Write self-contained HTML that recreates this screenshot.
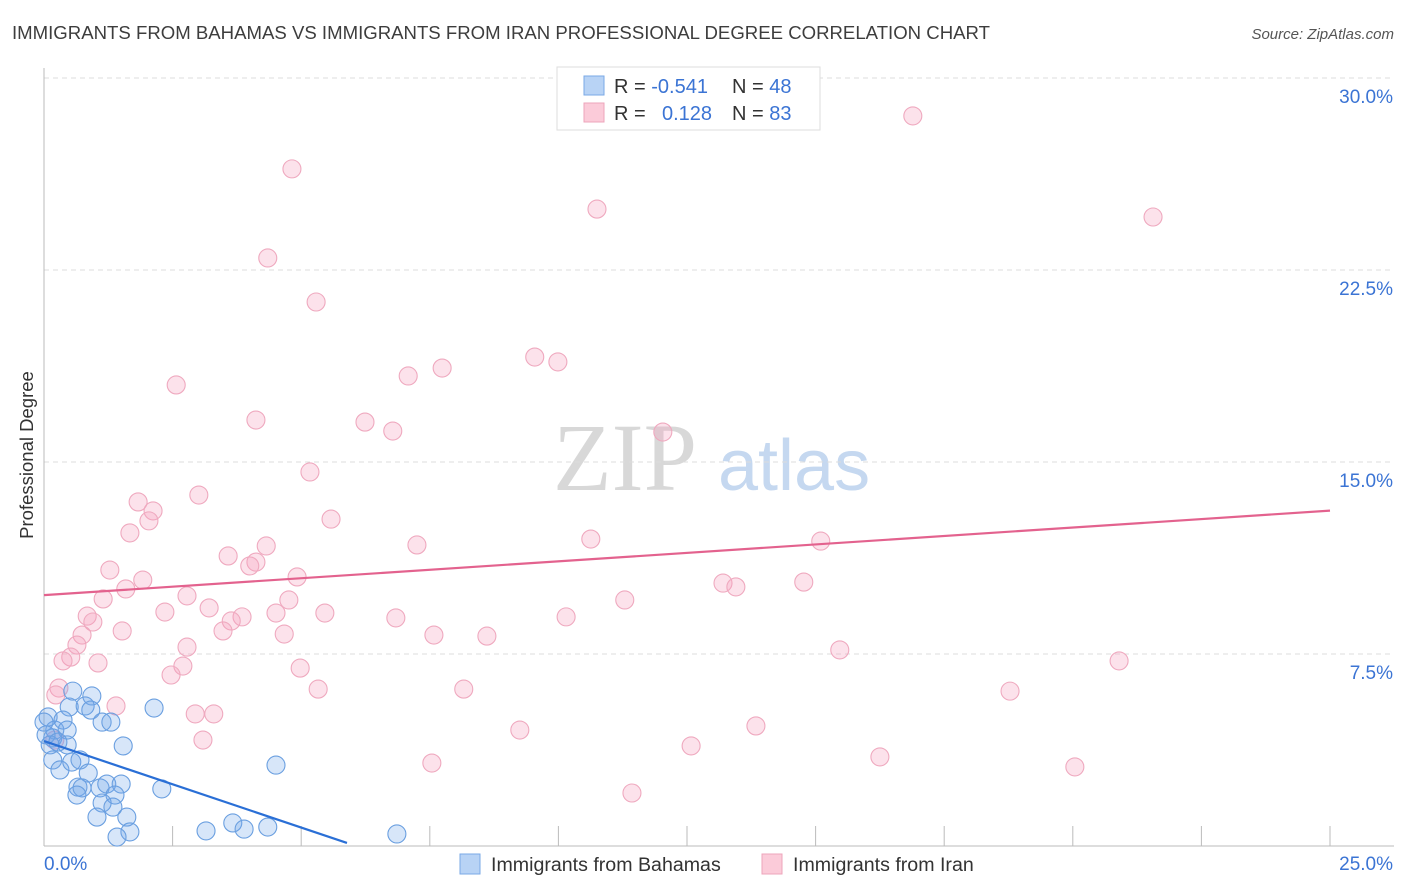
<!DOCTYPE html>
<html><head><meta charset="utf-8"><style>
body{margin:0;background:#fff;font-family:"Liberation Sans",sans-serif}
svg{display:block}
</style></head><body>
<svg id="chart" width="1406" height="892" xmlns="http://www.w3.org/2000/svg">
<text x="12" y="39" font-size="18.6" fill="#3d3d3d">IMMIGRANTS FROM BAHAMAS VS IMMIGRANTS FROM IRAN PROFESSIONAL DEGREE CORRELATION CHART</text>
<text x="1394" y="39" font-size="15" font-style="italic" fill="#555" text-anchor="end">Source: ZipAtlas.com</text>
<text transform="translate(33,455) rotate(-90)" font-size="18.5" fill="#333" text-anchor="middle">Professional Degree</text>
<g>
<text x="553" y="490" font-family="Liberation Serif,serif" font-size="96" fill="#d8d8d8">ZIP</text>
<text x="718" y="490" font-size="72" fill="#c5d8f0">atlas</text>
</g>
<g id="grid"></g>
<g id="marks"></g>
<g id="lines"></g>
<g>
<rect x="557" y="67" width="263" height="63" fill="#fff" stroke="#ddd"/>
<rect x="584" y="76" width="20" height="19" fill="#b8d3f5" stroke="#7aa8e6"/>
<rect x="584" y="103" width="20" height="19" fill="#fbcbd9" stroke="#eea4bb"/>
<text x="614" y="93" font-size="20" fill="#333">R = <tspan fill="#3b74d4">-0.541</tspan></text>
<text x="732" y="93" font-size="20" fill="#333">N = <tspan fill="#3b74d4">48</tspan></text>
<text x="614" y="120" font-size="20" fill="#333">R = <tspan x="662" fill="#3b74d4">0.128</tspan></text>
<text x="732" y="120" font-size="20" fill="#333">N = <tspan fill="#3b74d4">83</tspan></text>
</g>
<g>
<rect x="460" y="854" width="20" height="20" fill="#b8d3f5" stroke="#7aa8e6"/>
<text x="491" y="871" font-size="19.6" fill="#333">Immigrants from Bahamas</text>
<rect x="762" y="854" width="20" height="20" fill="#fbcbd9" stroke="#eea4bb"/>
<text x="793" y="871" font-size="19.6" fill="#333">Immigrants from Iran</text>
</g>
</svg>
<script>
const yTicks=[7.5,15,22.5,30];
const yTickLabels=["7.5%","15.0%","22.5%","30.0%"];
const xTicks=[0,2.5,5,7.5,10,12.5,15,17.5,20,22.5,25];
const bahamasX=[0.56,0.93,0.49,0.80,0.91,1.13,1.30,2.14,1.54,0.08,0.21,0.37,0.45,0.17,0.45,0.17,0.31,0.54,0.70,0.86,4.51,0.66,0.74,0.64,1.09,1.22,1.50,1.38,1.13,1.34,1.03,1.61,1.67,1.42,2.29,3.15,3.67,3.89,4.35,6.86,0.0,0.04,0.12,0.27];
const bahamasY=[6.05,5.86,5.43,5.47,5.31,4.84,4.84,5.39,3.91,5.04,4.53,4.92,4.53,4.22,3.95,3.36,2.97,3.28,3.36,2.85,3.16,2.30,2.27,1.99,2.27,2.42,2.42,1.99,1.68,1.52,1.13,1.13,0.55,0.35,2.23,0.59,0.90,0.66,0.74,0.47,4.84,4.34,3.95,4.06];
const iranX=[16.89,4.82,10.75,21.56,4.35,5.29,9.54,9.99,7.08,7.74,2.57,4.12,6.24,6.78,12.03,5.17,3.01,1.83,2.12,2.04,5.58,1.67,7.25,10.63,15.10,4.32,3.58,4.12,4.00,1.28,1.92,4.92,1.59,2.78,1.15,4.76,13.20,13.45,14.77,2.35,3.21,5.46,4.51,0.84,0.95,3.85,3.64,6.84,10.15,11.29,1.52,0.74,3.48,4.67,7.58,8.61,0.64,2.78,15.47,0.52,0.37,1.05,2.70,2.47,20.90,4.98,5.33,8.16,18.78,0.29,0.23,1.40,2.94,3.30,13.84,9.25,3.09,12.58,16.25,7.54,20.04,11.43,0.21];
const iranY=[28.52,26.45,24.88,24.57,22.97,21.25,19.10,18.91,18.36,18.67,18.01,16.64,16.56,16.21,16.17,14.61,13.71,13.44,13.09,12.70,12.77,12.23,11.76,11.99,11.91,11.72,11.33,11.09,10.94,10.78,10.39,10.51,10.04,9.77,9.65,9.61,10.27,10.12,10.31,9.14,9.30,9.10,9.10,8.98,8.75,8.95,8.79,8.91,8.95,9.61,8.40,8.24,8.40,8.28,8.24,8.20,7.85,7.77,7.66,7.38,7.23,7.15,7.03,6.68,7.23,6.95,6.13,6.13,6.05,6.17,5.90,5.47,5.16,5.16,4.69,4.53,4.14,3.91,3.48,3.24,3.09,2.07,4.14];
const bahamasTrend=[[0,4.1],[5.89,0.12]];
const iranTrend=[[0,9.8],[25,13.1]];
const X0=44,X1=1330,Y0=846,PXY=25.6;
const sx=v=>X0+v*(X1-X0)/25;
const sy=v=>Y0-v*PXY;
const NS="http://www.w3.org/2000/svg";
function mk(t,a,p){const e=document.createElementNS(NS,t);for(const k in a)e.setAttribute(k,a[k]);p.appendChild(e);return e;}
const grid=document.getElementById('grid');
yTicks.forEach((t,i)=>{
 const l=mk('line',{x1:X0,x2:1394,y1:sy(t),y2:sy(t),stroke:'#ddd','stroke-dasharray':'5,4'},grid);
 
 
 const tx=mk('text',{x:1393,y:sy(t)+25,'font-size':19,fill:'#3b74d4','text-anchor':'end'},grid);
 tx.textContent=yTickLabels[i];
 
 
});
const ax=mk('line',{x1:X0,x2:X0,y1:68,y2:Y0,stroke:'#bbb'},grid);


const bx=mk('line',{x1:X0,x2:1394,y1:Y0,y2:Y0,stroke:'#bbb'},grid);


xTicks.forEach(t=>{
 const l=mk('line',{x1:sx(t),x2:sx(t),y1:Y0-20,y2:Y0,stroke:'#bbb'},grid);
 
 
});
const xl0=mk('text',{x:44,y:870,'font-size':19,fill:'#3b74d4'},grid);xl0.textContent='0.0%';


const xl1=mk('text',{x:1393,y:870,'font-size':19,fill:'#3b74d4','text-anchor':'end'},grid);xl1.textContent='25.0%';


const marks=document.getElementById('marks');
iranX.forEach((x,i)=>{
 const c=mk('circle',{cx:sx(x),cy:sy(iranY[i]),r:9,fill:'rgba(244,160,188,0.3)',stroke:'#efa9bf','stroke-width':1.1},marks);
 
 
});
bahamasX.forEach((x,i)=>{
 const c=mk('circle',{cx:sx(x),cy:sy(bahamasY[i]),r:9,fill:'rgba(110,165,232,0.28)',stroke:'#6a9fe0','stroke-width':1.1},marks);
 
 
});
const lines=document.getElementById('lines');
const tl1=mk('line',{x1:sx(iranTrend[0][0]),y1:sy(iranTrend[0][1]),x2:sx(iranTrend[1][0]),y2:sy(iranTrend[1][1]),stroke:'#e3628e','stroke-width':2.2},lines);


const tl2=mk('line',{x1:sx(bahamasTrend[0][0]),y1:sy(bahamasTrend[0][1]),x2:sx(bahamasTrend[1][0]),y2:sy(bahamasTrend[1][1]),stroke:'#2a6fd6','stroke-width':2.2},lines);


</script>
</body></html>
